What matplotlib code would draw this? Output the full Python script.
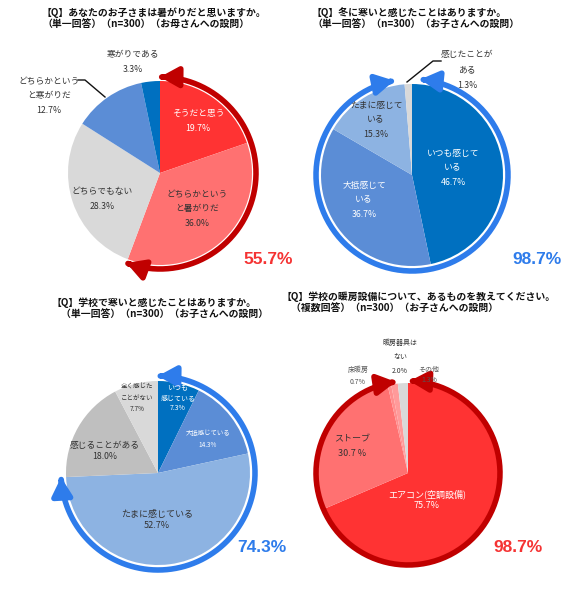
import numpy as np
import matplotlib
matplotlib.use("Agg")
import matplotlib.pyplot as plt
from matplotlib.patches import FancyArrowPatch, ArrowStyle
from matplotlib.path import Path

plt.rcParams['font.family'] = ['Noto Sans CJK JP', 'DejaVu Sans']

# ---------------- data ----------------
q1_title = "【Q】あなたのお子さまは暑がりだと思いますか。\n（単一回答）（n=300）（お母さんへの設問）"
q1_labels = ["そうだと思う", "どちらかというと暑がりだ", "どちらでもない", "どちらかというと寒がりだ", "寒がりである"]
q1_values = [19.7, 36.0, 28.3, 12.7, 3.3]
q1_total = 55.7

q2_title = "【Q】冬に寒いと感じたことはありますか。\n（単一回答）（n=300）（お子さんへの設問）"
q2_labels = ["いつも感じている", "大抵感じている", "たまに感じている", "感じたことがある"]
q2_values = [46.7, 36.7, 15.3, 1.3]
q2_total = 98.7

q3_title = "【Q】学校で寒いと感じたことはありますか。\n（単一回答）（n=300）（お子さんへの設問）"
q3_labels = ["いつも感じている", "大抵感じている", "たまに感じている", "感じることがある", "全く感じたことがない"]
q3_values = [7.3, 14.3, 52.7, 18.0, 7.7]
q3_total = 74.3

q4_title = "【Q】学校の暖房設備について、あるものを教えてください。\n（複数回答）（n=300）（お子さんへの設問）"
q4_labels = ["エアコン(空調設備)", "ストーブ", "床暖房", "その他", "暖房器具はない"]
q4_values = [75.7, 30.7, 0.7, 1.3, 2.0]
q4_total = 98.7

# ---------------- style ----------------
RED1, RED2 = "#FF3333", "#FF7171"
GRAY1, GRAY2 = "#D9D9D9", "#BFBFBF"
BLUE1, BLUE2, BLUE3 = "#0070C0", "#5B8DD6", "#8DB3E2"
DKRED = "#C00000"
RING_BLUE = "#2E7CEB"
TXT_RED = "#F53333"
TXT_BLUE = "#2E7CEB"
DARK = "#333333"

W, H = 578, 600
fig = plt.figure(figsize=(W / 100, H / 100), dpi=100)
ax = fig.add_axes([0, 0, 1, 1])


def Y(y):
    return H - y


def draw_pie(values, colors, cx, cy, r):
    ax.pie(values, colors=colors, startangle=90, counterclock=False,
           center=(cx, Y(cy)), radius=r, frame=True,
           wedgeprops=dict(linewidth=0))


def draw_ring(pct, cx, cy, r, color, lw, gap0=0.0, gap1=0.0, hl=0.9, hw=0.5):
    a0 = 90 - gap0
    a1 = 90 - pct / 100 * 360 + gap1
    t = np.radians(np.linspace(a0, a1, 200))
    verts = np.column_stack([cx + r * np.cos(t), Y(cy) + r * np.sin(t)])
    codes = [Path.MOVETO] + [Path.LINETO] * (len(verts) - 1)
    arr = FancyArrowPatch(path=Path(verts, codes),
                          arrowstyle=ArrowStyle('<|-|>', head_length=hl, head_width=hw),
                          mutation_scale=12, color=color, lw=lw, zorder=5)
    ax.add_patch(arr)


def lab(x, y, s, color=DARK, size=6.3, ls=1.75):
    ax.text(x, Y(y), s, ha='center', va='center', fontsize=size, color=color,
            linespacing=ls, zorder=6)


def title(x, y, s):
    ax.text(x, Y(y), s, ha='left', va='top', fontsize=7.1, fontweight='bold',
            color='#111111', linespacing=1.25)


def big(x, y, s, color):
    ax.text(x, Y(y), s, ha='center', va='center', fontsize=12.5,
            fontweight='bold', color=color, family='Liberation Sans')


# ---------- chart 1 ----------
title(42, 7, q1_title)
draw_pie(q1_values, [RED1, RED2, GRAY1, BLUE2, BLUE1], 160, 173, 92)
draw_ring(q1_total, 160, 173, 96, DKRED, 4.0)
lab(198, 121, f"{q1_labels[0]}\n{q1_values[0]:.1f}%", color='white')
lab(197, 209, "どちらかという\nと暑がりだ\n" + f"{q1_values[1]:.1f}%")
lab(102, 199, f"{q1_labels[2]}\n{q1_values[2]:.1f}%")
lab(49, 96, "どちらかという\nと寒がりだ\n" + f"{q1_values[3]:.1f}%")
lab(133, 62, f"{q1_labels[4]}\n{q1_values[4]:.1f}%")
ax.plot([78, 85, 105], [Y(80), Y(80), Y(97)], color='#111111', lw=1.0, zorder=6)
big(268, 259, f"{q1_total:.1f}%", TXT_RED)

# ---------- chart 2 ----------
title(312, 7, q2_title)
draw_pie(q2_values, [BLUE1, BLUE2, BLUE3, GRAY1], 412, 175, 91)
draw_ring(q2_total, 412, 175, 96, RING_BLUE, 4.0, gap0=5, gap1=6)
lab(453, 168, "いつも感じて\nいる\n" + f"{q2_values[0]:.1f}%", color='white')
lab(364, 200, "大抵感じて\nいる\n" + f"{q2_values[1]:.1f}%", color='white')
lab(376, 120, "たまに感じて\nいる\n" + f"{q2_values[2]:.1f}%")
lab(467, 70, "感じたことが\nある\n" + f"{q2_values[3]:.1f}%", ls=1.95)
ax.plot([441, 433, 407], [Y(61), Y(61), Y(82)], color='#111111', lw=1.0, zorder=6)
big(537, 259, f"{q2_total:.1f}%", TXT_BLUE)

# ---------- chart 3 ----------
title(52, 297, q3_title.replace("\n", "\n    "))
draw_pie(q3_values, [BLUE1, BLUE2, BLUE3, GRAY2, GRAY1], 158, 473, 92)
draw_ring(q3_total, 158, 473, 97, RING_BLUE, 4.0)
lab(178, 398, "いつも\n感じている\n" + f"{q3_values[0]:.1f}%", color='white', size=5.0, ls=1.4)
lab(208, 439, f"{q3_labels[1]}\n{q3_values[1]:.1f}%", color='white', size=4.6, ls=1.7)
lab(157, 520, f"{q3_labels[2]}\n{q3_values[2]:.1f}%", size=6.5, ls=1.3)
lab(105, 451, f"{q3_labels[3]}\n{q3_values[3]:.1f}%", size=6.3, ls=1.3)
lab(137, 398, "全く感じた\nことがない\n" + f"{q3_values[4]:.1f}%", size=4.7, ls=1.5)
big(262, 548, f"{q3_total:.1f}%", TXT_BLUE)

# ---------- chart 4 ----------
title(282, 291, q4_title.replace("\n", "\n    "))
draw_pie(q4_values, [RED1, RED2, "#FF8F8F", "#FF9A9A", GRAY1], 408, 473, 90)
draw_ring(q4_total, 408, 473, 92, DKRED, 4.0, gap0=1, gap1=3)
lab(427, 500, f"{q4_labels[0]}\n{q4_values[0]:.1f}%", color='white', size=6.5, ls=1.3)
lab(352, 446, "ストーブ\n30.7 %", size=6.5)
lab(358, 376, f"{q4_labels[2]}\n{q4_values[2]:.1f}%", size=5.0, color='#555555', ls=1.7)
lab(400, 357, "暖房器具は\nない\n" + f"{q4_values[4]:.1f}%", size=5.0, ls=2.0)
lab(429, 375, f"{q4_labels[3]}\n{q4_values[3]:.1f}%", size=5.0, color='#555555', ls=1.3)
big(518, 548, f"{q4_total:.1f}%", TXT_RED)

ax.set_xlim(0, W)
ax.set_ylim(0, H)
ax.set_aspect('auto')
ax.axis('off')
fig.savefig("out.png", dpi=100)
